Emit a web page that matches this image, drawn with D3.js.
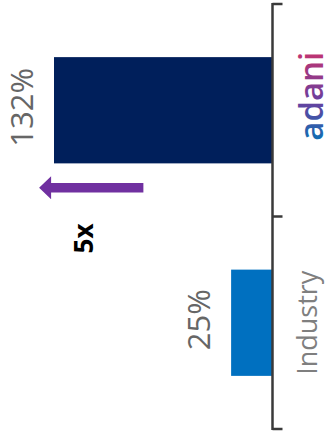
<!DOCTYPE html>
<html>
<head>
<meta charset="utf-8">
<script src="https://cdn.jsdelivr.net/npm/d3@7"></script>
<style>
  html, body { margin: 0; padding: 0; background: #fff; }
  svg { display: block; }
</style>
</head>
<body>
<svg id="chart" width="329" height="438"></svg>
<script>
const categories = ["adani", "Industry"];
const values = [132, 25];
const valueLabels = ["132%", "25%"];
const barColors = ["#001F5B", "#0070C0"];
const multiplierLabel = "5x";
const arrowFromValue = 78;
const arrowToValue = 141;

const svg = d3.select("#chart");
const axisX = 272.5;

const x = d3.scaleLinear().domain([0, 132]).range([axisX, 54]);
const y = d3.scaleBand().domain(categories).range([4, 429]).paddingInner(0).paddingOuter(0);
const bw = y.bandwidth();
const barH = bw * 0.5;

const defs = svg.append("defs");
const grad = defs.append("linearGradient").attr("id", "adaniGrad")
  .attr("x1", 0).attr("y1", 0).attr("x2", 1).attr("y2", 0);
grad.append("stop").attr("offset", "0%").attr("stop-color", "#0f6fb3");
grad.append("stop").attr("offset", "45%").attr("stop-color", "#6a3f9e");
grad.append("stop").attr("offset", "100%").attr("stop-color", "#c23470");

// bars
svg.selectAll("rect.bar").data(categories).enter().append("rect")
  .attr("class", "bar")
  .attr("x", (d, i) => x(values[i]))
  .attr("y", d => y(d) + (bw - barH) / 2)
  .attr("width", (d, i) => axisX - x(values[i]))
  .attr("height", barH)
  .attr("fill", (d, i) => barColors[i]);

// axis line and ticks at band edges
const edges = categories.map(c => y(c)).concat([y(categories[categories.length - 1]) + bw]);
svg.append("line")
  .attr("x1", axisX).attr("x2", axisX)
  .attr("y1", edges[0] - 1).attr("y2", edges[edges.length - 1] + 1)
  .attr("stroke", "#3a3a3a").attr("stroke-width", 2.5);
svg.selectAll("line.tick").data(edges).enter().append("line")
  .attr("class", "tick")
  .attr("x1", axisX).attr("x2", axisX + 10)
  .attr("y1", d => d).attr("y2", d => d)
  .attr("stroke", "#3a3a3a").attr("stroke-width", 2.5);

// value labels
svg.selectAll("text.val").data(categories).enter().append("text")
  .attr("class", "val")
  .attr("transform", (d, i) => `translate(${x(values[i]) - 21},${y(d) + bw / 2 - 3}) rotate(-90)`)
  .attr("text-anchor", "middle")
  .attr("font-family", "Open Sans")
  .attr("font-size", 31)
  .attr("fill", "#666666")
  .text((d, i) => valueLabels[i]);

// category labels
svg.append("text")
  .attr("transform", `translate(${axisX + 50.5},${y(categories[0]) + bw / 2 - 14}) rotate(-90)`)
  .attr("text-anchor", "middle")
  .attr("font-family", "Open Sans")
  .attr("font-weight", 600)
  .attr("font-size", 33)
  .attr("fill", "url(#adaniGrad)")
  .text(categories[0]);

svg.append("text")
  .attr("transform", `translate(${axisX + 44.5},${y(categories[1]) + bw / 2}) rotate(-90)`)
  .attr("text-anchor", "middle")
  .attr("font-family", "Open Sans")
  .attr("font-size", 27)
  .attr("fill", "#7f7f7f")
  .text(categories[1]);

// arrow
const ay = y(categories[0]) + bw / 2 + 77.5;
const tail = x(arrowFromValue), tip = x(arrowToValue);
const shaftHalf = 4.75, headHalf = 11.5, headLen = 12;
svg.append("path")
  .attr("d", `M${tail},${ay - shaftHalf} L${tip + headLen},${ay - shaftHalf} L${tip + headLen},${ay - headHalf} L${tip},${ay} L${tip + headLen},${ay + headHalf} L${tip + headLen},${ay + shaftHalf} L${tail},${ay + shaftHalf} Z`)
  .attr("fill", "#7030A0");

// multiplier label
svg.append("text")
  .attr("transform", `translate(93,${y(categories[1]) + 22}) rotate(-90)`)
  .attr("text-anchor", "middle")
  .attr("font-family", "Open Sans")
  .attr("font-weight", "bold")
  .attr("font-size", 26)
  .attr("fill", "#000")
  .text(multiplierLabel);
</script>
</body>
</html>
